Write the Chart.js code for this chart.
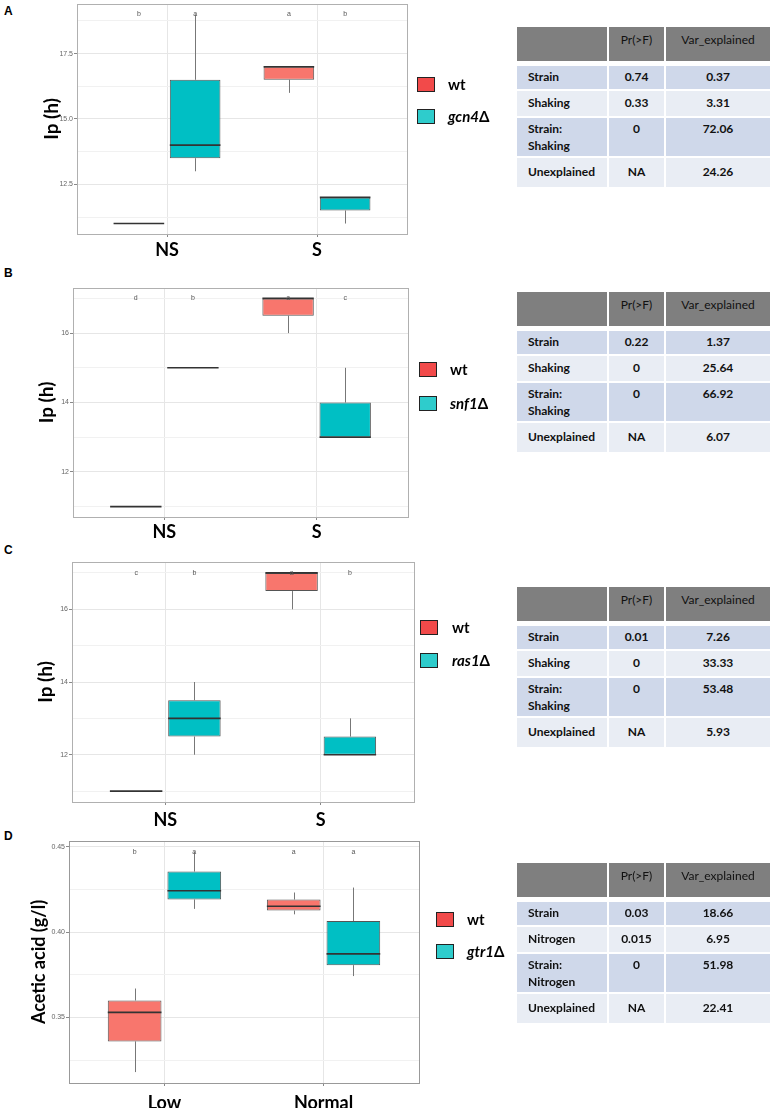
<!DOCTYPE html>
<html>
<head>
<meta charset="utf-8">
<script src="https://cdn.jsdelivr.net/npm/chart.js@4.4.1/dist/chart.umd.min.js"></script>
<style>
  body { margin: 0; width: 770px; height: 1108px; position: relative; overflow: hidden; background: #fff; font-family: Lato, sans-serif; }
  canvas { position: absolute; left: 0; }
  .tag { position: absolute; left: 4px; font: bold 12px "Liberation Sans", Arial, sans-serif; }
  .sw { position: absolute; width: 16px; height: 13px; border: 1.5px solid #222; }
  .lt { position: absolute; font: bold 15px Lato, sans-serif; line-height: 18px; }
  .tbl { position: absolute; left: 517px; display: grid; grid-template-columns: 90px 55px 104px;
         grid-template-rows: 34px 1px 23px 25px 38px 29px; gap: 2px; font: 12px/17px Lato, sans-serif; color: #111; }
  .tbl div { box-sizing: border-box; white-space: pre-line; text-align: center; }
  .tbl .h { background: #7f7f7f; padding-top: 4px; }
  .tbl .b { font-weight: bold; }
  .tbl .c1 { text-align: left; padding-left: 11px; }
</style>
</head>
<body>
<div class="tag" style="top:4px">A</div>
<div class="tag" style="top:266px">B</div>
<div class="tag" style="top:543px">C</div>
<div class="tag" style="top:829px">D</div>

<canvas id="cA" width="430" height="270" style="top:-6px"></canvas>
<canvas id="cB" width="430" height="270" style="top:278px"></canvas>
<canvas id="cC" width="430" height="280" style="top:552px"></canvas>
<canvas id="cD" width="430" height="277" style="top:831px"></canvas>

<div id="legends"></div>
<div id="tables"></div>

<script>
// five-number summaries: [lower whisker, Q1, median, Q3, upper whisker]
const shaking = ["NS", "S"];
const nitrogen = ["Low", "Normal"];

const wtA   = [[11, 11, 11, 11, 11], [16, 16.5, 17, 17, 17]];
const gcn4A = [[13, 13.5, 14, 16.5, 19], [11, 11.5, 12, 12, 12]];
const wtB   = [[11, 11, 11, 11, 11], [16, 16.5, 17, 17, 17]];
const snf1B = [[15, 15, 15, 15, 15], [13, 13, 13, 14, 15]];
const wtC   = [[11, 11, 11, 11, 11], [16, 16.5, 17, 17, 17]];
const ras1C = [[12, 12.5, 13, 13.5, 14], [12, 12, 12, 12.5, 13]];
const wtD   = [[0.318, 0.336, 0.353, 0.360, 0.367], [0.4105, 0.4127, 0.4152, 0.4192, 0.4233]];
const gtr1D = [[0.4137, 0.4192, 0.4243, 0.4356, 0.4471], [0.3743, 0.3807, 0.3873, 0.4066, 0.4262]];

// significance letters (per strain, per group)
const lettersWtA = ["b", "a"], lettersMutA = ["a", "b"];
const lettersWtB = ["d", "a"], lettersMutB = ["b", "c"];
const lettersWtC = ["c", "a"], lettersMutC = ["b", "b"];
const lettersWtD = ["b", "a"], lettersMutD = ["a", "a"];

// y tick values
const majorA = [12.5, 15, 17.5], minorA = [11.25, 13.75, 16.25, 18.75];
const majorBC = [12, 14, 16],    minorBC = [11, 13, 15, 17];
const majorD = [0.35, 0.40, 0.45], minorD = [0.325, 0.375, 0.425];

// ANOVA tables
const tableA = [["Strain", "0.74", "0.37"], ["Shaking", "0.33", "3.31"], ["Strain:\nShaking", "0", "72.06"], ["Unexplained", "NA", "24.26"]];
const tableB = [["Strain", "0.22", "1.37"], ["Shaking", "0", "25.64"], ["Strain:\nShaking", "0", "66.92"], ["Unexplained", "NA", "6.07"]];
const tableC = [["Strain", "0.01", "7.26"], ["Shaking", "0", "33.33"], ["Strain:\nShaking", "0", "53.48"], ["Unexplained", "NA", "5.93"]];
const tableD = [["Strain", "0.03", "18.66"], ["Nitrogen", "0.015", "6.95"], ["Strain:\nNitrogen", "0", "51.98"], ["Unexplained", "NA", "22.41"]];
const tableHead = ["", "Pr(>F)", "Var_explained"];

const boxParts = {
  id: "boxParts",
  beforeDatasetsDraw(chart) {
    const ctx = chart.ctx, y = chart.scales.y;
    ctx.save();
    ctx.strokeStyle = "#777";
    ctx.lineWidth = 1;
    chart.data.datasets.forEach((ds, d) => {
      chart.getDatasetMeta(d).data.forEach((el, i) => {
        const s = ds.summary[i];
        const x = Math.round(el.x) + 0.5;
        ctx.beginPath();
        ctx.moveTo(x, y.getPixelForValue(s[0]));
        ctx.lineTo(x, y.getPixelForValue(s[1]));
        ctx.moveTo(x, y.getPixelForValue(s[3]));
        ctx.lineTo(x, y.getPixelForValue(s[4]));
        ctx.stroke();
      });
    });
    ctx.restore();
  },
  afterDatasetsDraw(chart, args, opts) {
    const ctx = chart.ctx, y = chart.scales.y;
    ctx.save();
    chart.data.datasets.forEach((ds, d) => {
      chart.getDatasetMeta(d).data.forEach((el, i) => {
        const s = ds.summary[i];
        const ym = y.getPixelForValue(s[2]);
        ctx.strokeStyle = "#333";
        ctx.lineWidth = 1.6;
        ctx.beginPath();
        ctx.moveTo(el.x - el.width / 2, ym);
        ctx.lineTo(el.x + el.width / 2, ym);
        ctx.stroke();
        ctx.fillStyle = "#555";
        ctx.font = "7px 'Liberation Sans', Arial, sans-serif";
        ctx.textAlign = "center";
        ctx.textBaseline = "middle";
        ctx.fillText(ds.letters[i], el.x, y.getPixelForValue(opts.letterY));
      });
    });
    const a = chart.chartArea;
    ctx.strokeStyle = opts.frame;
    ctx.lineWidth = 1;
    ctx.strokeRect(Math.round(a.left) + 0.5, Math.round(a.top) + 0.5, Math.round(a.right - a.left), Math.round(a.bottom - a.top));
    ctx.restore();
  }
};

function boxChart(id, p) {
  const canvas = document.getElementById(id);
  const H = canvas.height, W = canvas.width;
  const toBars = s => s.map((v, i) => ({ x: i + 1, y: [v[1], v[3]] }));
  const isMajor = v => p.major.some(m => Math.abs(m - v) < 1e-9);
  const yTicks = p.major.concat(p.minor).sort((a, b) => a - b);
  new Chart(canvas, {
    type: "bar",
    data: {
      datasets: [
        { data: toBars(p.wt), summary: p.wt, letters: p.lw, backgroundColor: "#F8766D" },
        { data: toBars(p.mut), summary: p.mut, letters: p.lm, backgroundColor: "#00BFC4" }
      ]
    },
    options: {
      responsive: false,
      animation: false,
      categoryPercentage: 0.75,
      barPercentage: 0.9,
      borderColor: "#555",
      borderWidth: 1,
      borderSkipped: false,
      layout: { padding: { top: 10, right: W - p.right, left: 0, bottom: 0 } },
      plugins: {
        legend: { display: false },
        tooltip: { enabled: false },
        boxParts: { letterY: p.letterY, frame: p.frame }
      },
      scales: {
        x: {
          type: "linear", min: 0.4, max: 2.6, offset: false,
          afterBuildTicks: s => { s.ticks = [{ value: 1 }, { value: 2 }]; },
          afterFit: s => { s.height = H - p.bottom; },
          grid: { offset: false, color: "#e6e6e6", tickLength: 3, tickColor: "#888" },
          border: { display: false },
          ticks: {
            autoSkip: false, maxRotation: 0, padding: p.xpad, color: "#000",
            font: { family: "Lato", weight: "bold", size: 18 },
            callback: (v, i) => p.groups[i]
          }
        },
        y: {
          min: p.ymin, max: p.ymax, beginAtZero: false,
          afterBuildTicks: s => { s.ticks = yTicks.map(v => ({ value: v })); },
          afterFit: s => { s.width = p.left; },
          grid: {
            color: c => isMajor(c.tick.value) ? "#e6e6e6" : "#f1f1f1",
            tickColor: c => isMajor(c.tick.value) ? "#888" : "rgba(0,0,0,0)",
            tickLength: 3
          },
          border: { display: false },
          title: {
            display: true, text: p.title, color: "#000",
            font: { family: "Lato", weight: "bold", size: p.tsize },
            padding: { top: p.tpad, bottom: 0 }
          },
          ticks: {
            autoSkip: false, padding: 1, color: "#666",
            font: { family: "'Liberation Sans', Arial, sans-serif", size: 7 },
            callback: v => isMajor(v) ? v.toFixed(p.dec) : ""
          }
        }
      }
    },
    plugins: [boxParts]
  });
}

function legend(x, textX, yc, name) {
  const box = document.getElementById("legends");
  const items = [["wt", "#f24a4a", false], [name, "#2ecccc", true]];
  items.forEach((it, k) => {
    const sw = document.createElement("div");
    sw.className = "sw";
    sw.style.left = x + "px";
    sw.style.top = (yc[k] - 8) + "px";
    sw.style.background = it[1];
    box.appendChild(sw);
    const t = document.createElement("div");
    t.className = "lt";
    t.style.left = textX + "px";
    t.style.top = (yc[k] - 10) + "px";
    if (it[2]) t.innerHTML = "<i>" + it[0].slice(0, -1) + "</i>Δ";
    else t.textContent = it[0];
    box.appendChild(t);
  });
}

function table(top, rows) {
  const g = document.createElement("div");
  g.className = "tbl";
  g.style.top = top + "px";
  const pads = [2, 3, 2, 5];
  tableHead.forEach(h => { const c = document.createElement("div"); c.className = "h"; c.textContent = h; g.appendChild(c); });
  for (let k = 0; k < 3; k++) g.appendChild(document.createElement("div"));
  rows.forEach((r, i) => {
    r.forEach((v, j) => {
      const c = document.createElement("div");
      c.className = "b" + (j === 0 ? " c1" : "");
      c.style.background = i % 2 === 0 ? "#cfd8ea" : "#e9edf4";
      c.style.paddingTop = pads[i] + "px";
      c.textContent = v;
      g.appendChild(c);
    });
  });
  document.getElementById("tables").appendChild(g);
}

function draw() {
  boxChart("cA", { wt: wtA, mut: gcn4A, lw: lettersWtA, lm: lettersMutA, groups: shaking,
    major: majorA, minor: minorA, dec: 1, ymin: 10.6, ymax: 19.4, letterY: 19,
    left: 77, right: 407, bottom: 240, xpad: 2.5, title: "Ip (h)", tsize: 19, tpad: 40, frame: "#b0b0b0" });
  boxChart("cB", { wt: wtB, mut: snf1B, lw: lettersWtB, lm: lettersMutB, groups: shaking,
    major: majorBC, minor: minorBC, dec: 0, ymin: 10.7, ymax: 17.3, letterY: 17,
    left: 73, right: 408, bottom: 239, xpad: 1.5, title: "Ip (h)", tsize: 19, tpad: 35, frame: "#b0b0b0" });
  boxChart("cC", { wt: wtC, mut: ras1C, lw: lettersWtC, lm: lettersMutC, groups: shaking,
    major: majorBC, minor: minorBC, dec: 0, ymin: 10.7, ymax: 17.3, letterY: 17,
    left: 72, right: 414, bottom: 250, xpad: 4.5, title: "Ip (h)", tsize: 19, tpad: 34, frame: "#b0b0b0" });
  boxChart("cD", { wt: wtD, mut: gtr1D, lw: lettersWtD, lm: lettersMutD, groups: nitrogen,
    major: majorD, minor: minorD, dec: 2, ymin: 0.3116, ymax: 0.4535, letterY: 0.447,
    left: 69, right: 419, bottom: 252, xpad: 6, title: "Acetic acid (g/l)", tsize: 18, tpad: 28, frame: "#999" });

  legend(417, 448, [85, 117], "gcn4Δ");
  legend(419, 450, [370, 404], "snf1Δ");
  legend(420, 452, [628, 661], "ras1Δ");
  legend(436, 467, [920, 952], "gtr1Δ");

  table(27, tableA);
  table(292, tableB);
  table(587, tableC);
  table(863, tableD);
}

Promise.all([
  document.fonts.load("bold 18px Lato"),
  document.fonts.load("12px Lato"),
  document.fonts.load("7px 'Liberation Sans'")
]).then(draw, draw);
</script>
</body>
</html>
